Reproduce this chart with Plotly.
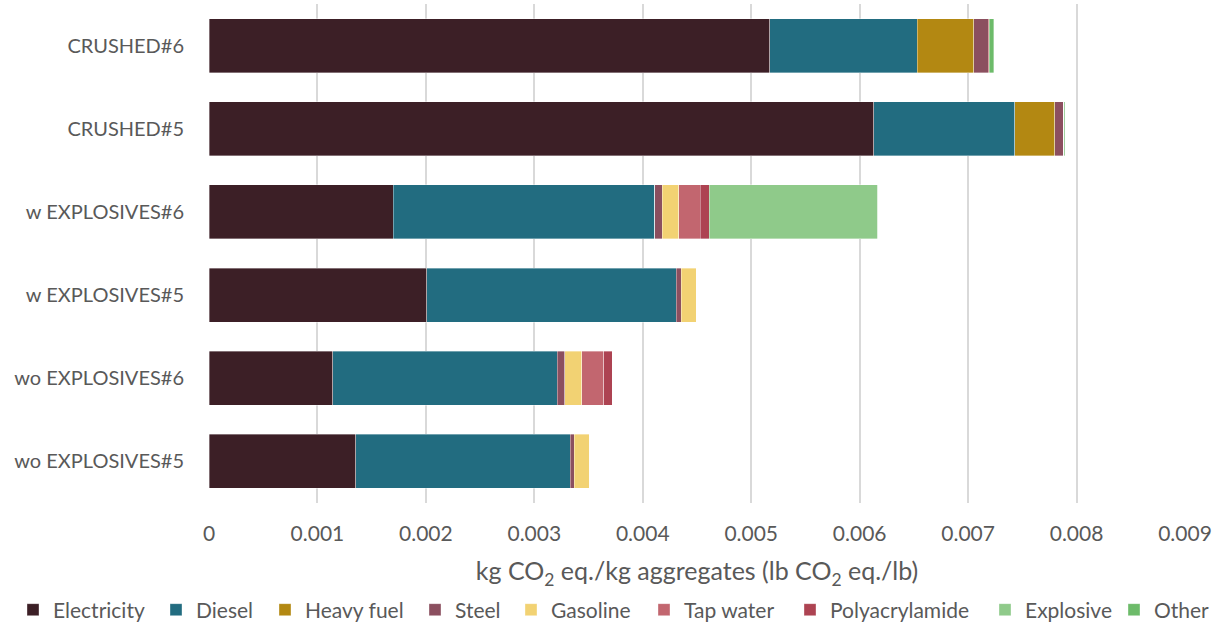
import plotly.graph_objects as go

# Scenarios, listed top to bottom
scenarios = ["CRUSHED#6", "CRUSHED#5", "w EXPLOSIVES#6", "w EXPLOSIVES#5",
             "wo EXPLOSIVES#6", "wo EXPLOSIVES#5"]

# Emission contribution per source (kg CO2 eq./kg aggregates)
electricity = [0.00517, 0.00613, 0.00170, 0.00201, 0.00114, 0.001355]
diesel = [0.00136, 0.00130, 0.00241, 0.00230, 0.00207, 0.001975]
heavy_fuel = [0.00052, 0.00037, 0.0, 0.0, 0.0, 0.0]
steel = [0.000135, 0.00008, 0.00007, 0.000045, 0.00007, 0.00004]
gasoline = [0.0, 0.0, 0.00015, 0.00014, 0.000155, 0.00014]
tap_water = [0.00001, 0.0, 0.00020, 0.0, 0.000205, 0.0]
polyacrylamide = [0.0, 0.0, 0.000085, 0.0, 0.00008, 0.0]
explosive = [0.0, 0.0, 0.00155, 0.0, 0.0, 0.0]
other = [0.00004, 0.00001, 0.0, 0.0, 0.0, 0.0]

tick_vals = [0, 0.001, 0.002, 0.003, 0.004, 0.005, 0.006, 0.007, 0.008, 0.009]
tick_text = ["0", "0.001", "0.002", "0.003", "0.004", "0.005", "0.006", "0.007",
             "0.008", "0.009"]

series = [
    ("Electricity", electricity, "#3c1f26"),
    ("Diesel", diesel, "#226c80"),
    ("Heavy fuel", heavy_fuel, "#b38812"),
    ("Steel", steel, "#8b4f5f"),
    ("Gasoline", gasoline, "#f2d273"),
    ("Tap water", tap_water, "#c2666f"),
    ("Polyacrylamide", polyacrylamide, "#ad4352"),
    ("Explosive", explosive, "#8fca8a"),
    ("Other", other, "#6dbb6a"),
]

FONT = "Lato, Carlito, Calibri, sans-serif"
GREY = "#595959"

W, H = 1231, 624
ML, MR, MT, MB = 209, 46, 4, 119

# left edge (px) of each legend entry along the bottom row
legend_px = [13, 156, 265, 415, 511, 644, 790, 985, 1114]
legend_row_y = 610

fig = go.Figure()
legend_layouts = {}
for i, (name, vals, color) in enumerate(series):
    key = "legend" if i == 0 else f"legend{i + 1}"
    fig.add_trace(go.Bar(
        name=name, x=vals, y=scenarios, orientation="h",
        legend=key, showlegend=True,
        marker=dict(color=color, line=dict(color="rgba(255,255,255,0.6)", width=0.6)),
    ))
    legend_layouts[key] = dict(
        xref="container", yref="container",
        x=legend_px[i] / W, xanchor="left",
        y=(H - legend_row_y) / H, yanchor="middle",
        orientation="h", bgcolor="rgba(0,0,0,0)",
        font=dict(family=FONT, size=21, color=GREY),
    )

fig.update_layout(
    barmode="stack",
    bargap=0.35,
    width=W, height=H,
    margin=dict(l=ML, r=MR, t=MT, b=MB),
    plot_bgcolor="white", paper_bgcolor="white",
    showlegend=True,
    font=dict(family=FONT, size=20, color=GREY),
    xaxis=dict(
        range=[0, 0.009], tickvals=tick_vals, ticktext=tick_text,
        showgrid=True, gridcolor="#d9d9d9", gridwidth=2,
        zeroline=False, showline=False, ticks="", ticklabelstandoff=16,
        tickfont=dict(size=21, color=GREY),
        title=dict(text="kg CO<sub>2</sub> eq./kg aggregates (lb CO<sub>2</sub> eq./lb)",
                   font=dict(size=25, color=GREY), standoff=23),
    ),
    yaxis=dict(
        autorange="reversed", showgrid=False, zeroline=False, showline=False,
        ticks="", ticklabelstandoff=24, tickfont=dict(size=20, color=GREY),
    ),
    **legend_layouts,
)

fig.write_html("out.html")
